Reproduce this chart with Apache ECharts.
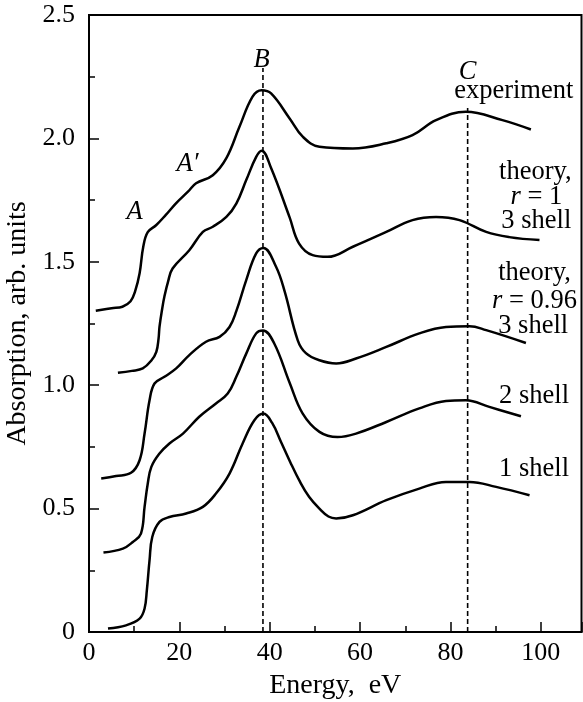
<!DOCTYPE html>
<html>
<head>
<meta charset="utf-8">
<script src="https://cdn.jsdelivr.net/npm/echarts@6/dist/echarts.min.js"></script>
<style>
html,body{margin:0;padding:0;background:#fff}
#chart{width:583px;height:702px}
</style>
</head>
<body>
<div id="chart"></div>
<script>
// curves, [energy, absorption]
var experiment = [[1.5,1.302],[5,1.312],[7.4,1.318],[9.2,1.34],[10.2,1.38],[11.2,1.454],[12,1.56],[13,1.62],[14.9,1.649],[17,1.69],[19.3,1.738],[21.9,1.784],[23.7,1.818],[27.4,1.851],[30.4,1.92],[33.3,2.047],[36.2,2.169],[38.2,2.195],[40.3,2.182],[44.4,2.081],[47.3,2.007],[51,1.966],[58.4,1.959],[65.8,1.98],[71.6,2.013],[76.8,2.074],[83.4,2.108],[91.5,2.074],[97.8,2.036]];
var theoryR1 = [[6.4,1.05],[9.5,1.058],[11.9,1.068],[13.8,1.1],[14.9,1.135],[15.4,1.19],[15.6,1.236],[16.2,1.31],[16.7,1.36],[17.5,1.42],[18.5,1.473],[22.2,1.547],[25.2,1.621],[27.4,1.642],[30.4,1.682],[32.6,1.736],[34.8,1.831],[37,1.925],[38.2,1.95],[40.3,1.88],[44.4,1.68],[46.5,1.574],[49.5,1.527],[52.8,1.52],[58.4,1.561],[65.8,1.621],[71.6,1.669],[76.8,1.682],[82,1.669],[87.9,1.621],[93,1.6],[99.7,1.588]];
var theoryR096 = [[2.7,0.622],[6,0.632],[9.3,0.645],[11.2,0.696],[12.3,0.804],[13.4,0.939],[14.5,1.007],[16.7,1.034],[19.3,1.068],[22.2,1.122],[25.9,1.176],[28.9,1.196],[31.1,1.236],[32.6,1.3],[34.8,1.426],[37,1.534],[38.6,1.556],[41.4,1.48],[43.3,1.38],[46.2,1.182],[48,1.13],[51,1.101],[54.7,1.088],[59.1,1.108],[65.8,1.155],[73.1,1.21],[79,1.236],[84.2,1.239],[87.9,1.223],[96.7,1.171]];
var twoShell = [[3.2,0.322],[7.5,0.338],[9.7,0.365],[11.5,0.399],[12.3,0.507],[13,0.601],[13.8,0.669],[15.6,0.723],[17.8,0.764],[20.8,0.804],[24.4,0.872],[28.1,0.926],[30.7,0.966],[32.6,1.034],[34.8,1.128],[37,1.21],[38.5,1.222],[41,1.169],[44.4,1.01],[47.3,0.885],[51,0.811],[55,0.79],[59.1,0.804],[65.8,0.851],[73.1,0.906],[79,0.936],[83.4,0.939],[88.6,0.912],[95.6,0.874]];
var oneShell = [[4.2,0.014],[8.2,0.027],[11.2,0.054],[12.3,0.095],[12.8,0.169],[13.4,0.291],[14,0.385],[15.6,0.446],[17.8,0.466],[21.5,0.48],[25.2,0.507],[28.1,0.561],[31.1,0.642],[34,0.764],[36.6,0.858],[38.6,0.885],[40.5,0.848],[42.5,0.77],[44.5,0.69],[46.6,0.612],[48.7,0.548],[51,0.5],[53,0.468],[54.7,0.46],[58.4,0.473],[65.8,0.534],[73.1,0.581],[79,0.608],[84.2,0.608],[90.1,0.588],[97.5,0.554]];

// dashed markers B and C
var dashX = [38.5, 83.8];
var dashTop = [2.285, 2.123];

// annotation texts
var labelText = ['{i|A}', '{i|A\u2032}', '{i|B}', '{i|C}', 'experiment', 'theory,', '{i|r} = 1', '3 shell', 'theory,', '{i|r} = 0.96', '3 shell', '2 shell', '1 shell'];
var labelX = [10.1, 21.8, 38.2, 83.8, 94, 98.8, 99, 99, 98.6, 98.6, 98.3, 98.5, 98.5];
var labelY = [1.702, 1.896, 2.317, 2.268, 2.192, 1.864, 1.762, 1.665, 1.454, 1.341, 1.239, 0.956, 0.660];

var xMin = 0, xMax = 109, xStep = 20;
var yMin = 0, yMax = 2.5, yStep = 0.5;

var FONT = '"Liberation Serif", "DejaVu Serif", serif';

var chart = echarts.init(document.getElementById('chart'));

var curves = [experiment, theoryR1, theoryR096, twoShell, oneShell];
var series = [];
for (var i = 0; i < curves.length; i++) {
    series.push({
        type: 'line',
        data: curves[i],
        showSymbol: false,
        smooth: 0.4,
        lineStyle: {color: '#000', width: 2.5},
        silent: true
    });
}
for (var j = 0; j < dashX.length; j++) {
    series.push({
        type: 'line',
        data: [[dashX[j], 0], [dashX[j], dashTop[j]]],
        showSymbol: false,
        lineStyle: {color: '#000', width: 1.6, type: [5, 3]},
        silent: true
    });
}
var labelData = [];
for (var k = 0; k < labelText.length; k++) {
    labelData.push({value: [labelX[k], labelY[k]], name: labelText[k]});
}
series.push({
    type: 'scatter',
    data: labelData,
    symbolSize: 0,
    silent: true,
    itemStyle: {opacity: 1},
    label: {
        show: true,
        position: 'inside',
        formatter: function (p) { return p.name; },
        color: '#000',
        textBorderWidth: 0,
        fontFamily: FONT,
        fontSize: 26.5,
        rich: {
            i: {fontStyle: 'italic', fontFamily: FONT, fontSize: 26.5, color: '#000'}
        }
    }
});

chart.setOption({
    animation: false,
    backgroundColor: '#fff',
    grid: {left: 89, right: 1.5, top: 15, bottom: 70, containLabel: false, outerBoundsMode: 'none',
        show: true, borderColor: '#000', borderWidth: 2},
    xAxis: {
        type: 'value',
        min: xMin, max: xMax, interval: xStep,
        name: 'Energy,  eV',
        nameLocation: 'middle',
        nameGap: 40,
        nameTextStyle: {fontFamily: FONT, fontSize: 28, color: '#000'},
        axisLine: {lineStyle: {color: '#000', width: 2}},
        axisTick: {inside: true, length: 10, lineStyle: {color: '#000', width: 1.5}},
        minorTick: {show: true, splitNumber: 2, length: 6, lineStyle: {color: '#000', width: 1.5}},
        splitLine: {show: false},
        axisLabel: {showMaxLabel: false, margin: 8, fontFamily: FONT, fontSize: 26, color: '#000'}
    },
    yAxis: {
        type: 'value',
        min: yMin, max: yMax, interval: yStep,
        name: 'Absorption, arb. units',
        nameLocation: 'middle',
        nameGap: 53,
        nameTextStyle: {fontFamily: FONT, fontSize: 28, color: '#000'},
        axisLine: {lineStyle: {color: '#000', width: 2}},
        axisTick: {inside: true, length: 10, lineStyle: {color: '#000', width: 1.5}},
        minorTick: {show: true, splitNumber: 2, length: 6, lineStyle: {color: '#000', width: 1.5}},
        splitLine: {show: false},
        axisLabel: {
            margin: 14, fontFamily: FONT, fontSize: 26, color: '#000',
            formatter: function (v) { return v === 0 ? '0' : v.toFixed(1); }
        }
    },
    series: series
});
</script>
</body>
</html>
